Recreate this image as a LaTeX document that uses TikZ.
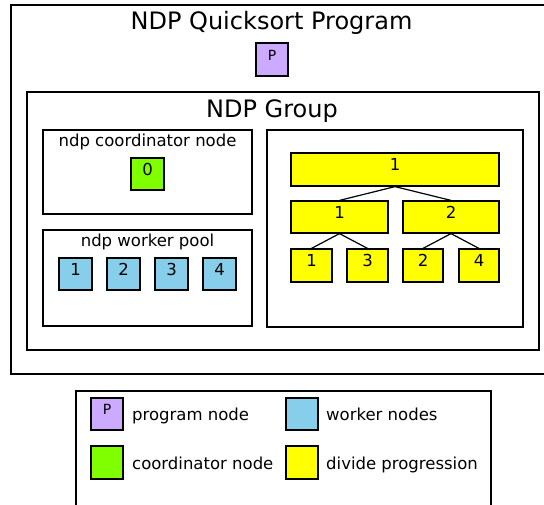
\documentclass[tikz,border=0pt]{standalone}
\usepackage{fontspec}
\setmainfont{DejaVu Sans}
\usepackage{tikz}
\definecolor{pc}{RGB}{204, 170, 255}
\definecolor{cc}{RGB}{127, 255, 0}
\definecolor{wc}{RGB}{135, 206, 235}
\definecolor{dc}{RGB}{255, 255, 0}
\newcommand{\bigtxt}{\fontsize{24}{28}\selectfont}
\newcommand{\midtxt}{\fontsize{16.5}{19}\selectfont}
\newcommand{\smalltxt}{\fontsize{14}{16}\selectfont}

\begin{document}
\begin{tikzpicture}[
  frame/.style={rectangle, draw=black, line width=1.2pt, inner sep=0pt},
  cell/.style={rectangle, draw=black, line width=1.2pt, inner sep=0pt, minimum width=32pt, minimum height=32pt, text height=17pt, text depth=15pt, font=\midtxt},
  caption/.style={anchor=base, inner sep=0pt},
  key/.style={anchor=base west, inner sep=0pt, font=\midtxt}]
\useasboundingbox (0pt, 0pt) rectangle (544pt, -504pt);
\clip (0pt, 0pt) rectangle (544pt, -504pt);
% containers
\node (prog) [frame, minimum width=537pt, minimum height=369pt] at (279.5pt, -189.5pt) {};
\node (group) [frame, minimum width=512pt, minimum height=258pt] at (283.0pt, -221.0pt) {};
\node (coordbox) [frame, minimum width=209pt, minimum height=84pt] at (147.5pt, -172.0pt) {};
\node (poolbox) [frame, minimum width=209pt, minimum height=96pt] at (147.5pt, -278.0pt) {};
\node (dividebox) [frame, minimum width=256pt, minimum height=197pt] at (395.0pt, -228.5pt) {};
\node (legend) [frame, minimum width=415pt, minimum height=129pt] at (283.5pt, -455.5pt) {};
\node (progtitle) [caption, font=\bigtxt] at (271.5pt, -29.5pt) {NDP Quicksort Program};
\node (grouptitle) [caption, font=\bigtxt] at (272.0pt, -117.5pt) {NDP Group};
\node (coordtitle) [caption, font=\midtxt] at (147.5pt, -146.0pt) {ndp coordinator node};
\node (pooltitle) [caption, font=\midtxt] at (147.5pt, -246.5pt) {ndp worker pool};
% program, coordinator and workers
\node (p) [cell, fill=pc, minimum height=33pt, font=\smalltxt] at (272.0pt, -59.5pt) {P};
\node (c0) [cell, fill=cc, minimum width=33pt] at (147.5pt, -174.0pt) {0};
\node (w1) [cell, fill=wc, minimum width=33pt] at (75.5pt, -274.0pt) {1};
\node (w2) [cell, fill=wc, minimum width=33pt] at (123.5pt, -274.0pt) {2};
\node (w3) [cell, fill=wc, minimum width=33pt] at (171.5pt, -274.0pt) {3};
\node (w4) [cell, fill=wc, minimum width=33pt] at (219.5pt, -274.0pt) {4};
% divide progression
\node (t1) [cell, fill=dc, minimum width=208pt, minimum height=33pt] at (395.0pt, -169.5pt) {1};
\node (t2) [cell, fill=dc, minimum width=97pt] at (339.5pt, -217.0pt) {1};
\node (t3) [cell, fill=dc, minimum width=96pt] at (451.0pt, -217.0pt) {2};
\node (t4) [cell, fill=dc, minimum width=41pt, minimum height=33pt] at (311.5pt, -265.5pt) {1};
\node (t5) [cell, fill=dc, minimum width=41pt, minimum height=33pt] at (367.5pt, -265.5pt) {3};
\node (t6) [cell, fill=dc, minimum width=40pt, minimum height=33pt] at (423.0pt, -265.5pt) {2};
\node (t7) [cell, fill=dc, minimum width=40pt, minimum height=33pt] at (479.0pt, -265.5pt) {4};
\draw [line width=1.2pt, color=black] (t1.south) to (t2.north);
\draw [line width=1.2pt, color=black] (t1.south) to (t3.north);
\draw [line width=1.2pt, color=black] (t2.south) to (t4.north);
\draw [line width=1.2pt, color=black] (t2.south) to (t5.north);
\draw [line width=1.2pt, color=black] (t3.south) to (t6.north);
\draw [line width=1.2pt, color=black] (t3.south) to (t7.north);
% legend
\node (lp) [cell, fill=pc, font=\smalltxt, text height=16pt, text depth=16pt] at (107.0pt, -414.0pt) {P};
\node (lw) [cell, fill=wc] at (302.0pt, -414.0pt) {};
\node (lc) [cell, fill=cc, minimum height=33pt] at (107.0pt, -462.5pt) {};
\node (ld) [cell, fill=dc, minimum height=33pt] at (302.0pt, -462.5pt) {};
\node (lptxt) [key] at (132.0pt, -420.5pt) {program node};
\node (lwtxt) [key] at (326.0pt, -420.5pt) {worker nodes};
\node (lctxt) [key] at (132.0pt, -469.0pt) {coordinator node};
\node (ldtxt) [key] at (326.0pt, -469.0pt) {divide progression};
\end{tikzpicture}
\end{document}
